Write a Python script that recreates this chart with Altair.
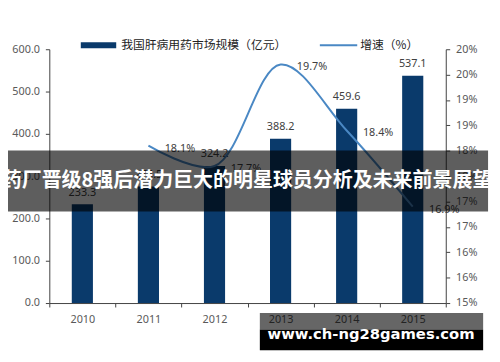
import altair as alt
import pandas as pd

# ---- data ----
years = ["2010", "2011", "2012", "2013", "2014", "2015"]
market = [233.3, 275.5, 324.2, 388.2, 459.6, 537.1]          # 亿元
growth_years = ["2011", "2012", "2013", "2014", "2015"]
growth = [18.1, 17.7, 19.7, 18.4, 16.9]                        # %
left_ticks = [0, 100, 200, 300, 400, 500, 600]
right_ticks = [15, 15.5, 16, 16.5, 17, 17.5, 18, 18.5, 19, 19.5, 20]
right_tick_labels = ["15%", "16%", "16%", "17%", "17%", "18%", "18%", "19%", "19%", "20%", "20%"]

legend_bar = "我国肝病用药市场规模（亿元）"
legend_line = "增速（%）"
banner_text = "药厂晋级8强后潜力巨大的明星球员分析及未来前景展望"
watermark_text = "www.ch-ng28games.com"

BAR = "#0a3a6b"
LINE = "#4a88c4"
AX = "#404040"
LBL = "#595959"
FONT = "Noto Sans"
CJK = "Noto Sans CJK SC"

bar_df = pd.DataFrame({"year": years, "value": market})
line_df = pd.DataFrame({"year": growth_years, "g": growth,
                        "lab": [f"{v:.1f}%" for v in growth]})

right_expr = " : ".join(
    f"abs(datum.value - {v}) < 0.01 ? '{l}'" for v, l in zip(right_ticks, right_tick_labels)
) + " : ''"

xenc = alt.X("year:O", title=None,
             scale=alt.Scale(paddingInner=0, paddingOuter=0),
             axis=alt.Axis(labelAngle=0, tickBand="extent", domainColor=AX, tickColor=AX,
                           tickSize=4, labelPadding=7, labelColor=LBL, labelFont=FONT,
                           labelFontSize=11))

yleft = alt.Y("value:Q", title=None,
              scale=alt.Scale(domain=[0, 600], nice=False),
              axis=alt.Axis(values=left_ticks, format=".1f", grid=False, domainColor=AX,
                            tickColor=AX, tickSize=4, labelPadding=6, labelColor=LBL,
                            labelFont=FONT, labelFontSize=11, labelOverlap=False))

bars = alt.Chart(bar_df).mark_bar(color=BAR, width=alt.RelativeBandSize(0.32)).encode(
    x=xenc, y=yleft)
bar_text = alt.Chart(bar_df).mark_text(dy=-12, font=FONT, fontSize=11, color=AX,
                                       baseline="middle").encode(
    x=alt.X("year:O"), y=yleft, text=alt.Text("value:Q", format=".1f"))

yright = alt.Y("g:Q", title=None,
               scale=alt.Scale(domain=[15, 20], nice=False, zero=False),
               axis=alt.Axis(orient="right", values=right_ticks, labelExpr=right_expr,
                             tickCount=11,
                             grid=False, domainColor=AX, tickColor=AX, tickSize=4,
                             labelPadding=6, labelColor=LBL, labelFont=FONT, labelFontSize=11,
                             labelOverlap=False, labelBound=False))

line = alt.Chart(line_df).mark_line(color=LINE, strokeWidth=2,
                                    interpolate="catmull-rom").encode(
    x=alt.X("year:O"), y=yright)
line_text = alt.Chart(line_df).mark_text(dx=32, dy=3, font=FONT, fontSize=11, color=AX,
                                         baseline="middle").encode(
    x=alt.X("year:O"), y=yright, text="lab:N")

bar_layer = alt.layer(bars, bar_text)
line_layer = alt.layer(line, line_text)

one = pd.DataFrame({"k": [0]})

# legend (manual)
leg_rect = alt.Chart(one).mark_rect(color=BAR).encode(
    x=alt.value(32), x2=alt.value(68), y=alt.value(-7), y2=alt.value(-1))
leg_text1 = alt.Chart(one).mark_text(align="left", baseline="middle", font=CJK,
                                     fontSize=12, color="#222222").encode(
    x=alt.value(73), y=alt.value(-4), text=alt.value(legend_bar))
leg_line = alt.Chart(one).mark_rule(color=LINE, strokeWidth=2).encode(
    x=alt.value(275), x2=alt.value(313), y=alt.value(-4))
leg_text2 = alt.Chart(one).mark_text(align="left", baseline="middle", font=CJK,
                                     fontSize=12, color="#222222").encode(
    x=alt.value(316), y=alt.value(-4), text=alt.value(legend_line))

# overlay banner and watermark
banner = alt.Chart(one).mark_rect(color="#000000", opacity=0.63).encode(
    x=alt.value(-46), x2=alt.value(446), y=alt.value(103), y2=alt.value(165))
banner_t = alt.Chart(one).mark_text(align="center", baseline="middle", font=CJK,
                                    fontSize=20.3, fontWeight="bold", color="white").encode(
    x=alt.value(201), y=alt.value(134), text=alt.value(banner_text))
wm_top = alt.Chart(one).mark_rect(color="#000000", opacity=0.6).encode(
    x=alt.value(214), x2=alt.value(441), y=alt.value(268), y2=alt.value(285))
wm_bot = alt.Chart(one).mark_rect(color="#000000", opacity=1).encode(
    x=alt.value(214), x2=alt.value(441), y=alt.value(285), y2=alt.value(306))
wm_t = alt.Chart(one).mark_text(align="center", baseline="middle", font="DejaVu Sans",
                                fontSize=15, fontWeight="bold", color="white").encode(
    x=alt.value(327), y=alt.value(290), text=alt.value(watermark_text))

chart = alt.layer(
    bar_layer, line_layer,
    leg_rect, leg_text1, leg_line, leg_text2,
    banner, banner_t, wm_top, wm_bot, wm_t,
).resolve_scale(y="independent").properties(
    width=403, height=258,
    padding={"left": 42, "top": 39, "right": 47, "bottom": 57},
    autosize=alt.AutoSizeParams(type="none"),
    background="white",
).configure_view(stroke=None)

chart.save("out.html", embed_options={"renderer": "svg", "actions": False})
